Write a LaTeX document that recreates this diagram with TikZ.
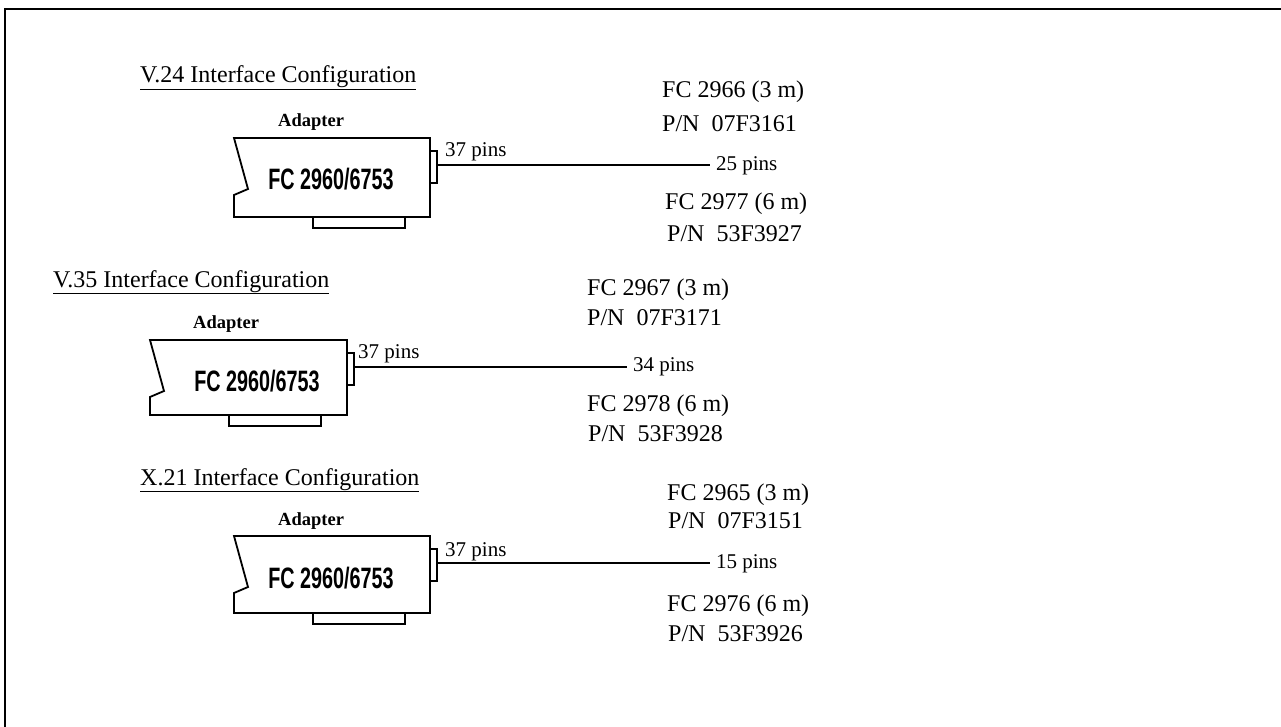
\documentclass[tikz,border=0pt]{standalone}
\usepackage{fontspec}
\setmainfont{Liberation Serif}
\newfontfamily\fcfont{Liberation Sans}
\tikzset{
  frameline/.style={line width=2pt},
  card/.style={line width=1.8pt, line join=miter},
  cable/.style={line width=2.2pt},
  thincable/.style={line width=1.5pt},
  ttl/.style={font=\fontsize{24}{28}\selectfont, anchor=base west, inner sep=0pt},
  lbl/.style={font=\fontsize{24}{28}\selectfont, anchor=base west, inner sep=0pt},
  pins/.style={font=\fontsize{21}{24}\selectfont, anchor=base west, inner sep=0pt},
  endpins/.style={font=\fontsize{21}{24}\selectfont, anchor=west, inner sep=0pt, outer xsep=6pt},
  adlbl/.style={font=\bfseries\fontsize{18.5}{22}\selectfont, anchor=base west, inner sep=0pt},
  fctext/.style={font=\fcfont\bfseries\fontsize{29.5}{32}\selectfont, inner sep=0pt}
}
% #1 prefix, #2 x, #3 y, #4 width, #5 height
\newcommand\adaptercard[5]{%
  \begin{scope}[shift={(#2,#3)}]
    \draw[card] (14,51) -- (0,0) -- (#4,0) -- (#4,#5) -- (0,#5) -- (0,57) -- cycle;
    \draw[card] (#4,13) rectangle ({#4+7},45);
    \draw[card] (79,#5) rectangle (171,{#5+11});
    \coordinate (#1conn) at ({#4+7},27);
  \end{scope}}
\newcommand\fcstr{\scalebox{0.67}[1]{FC 2960/6753}}
\begin{document}
\begin{tikzpicture}[x=1pt,y=-1pt]
  \useasboundingbox (0,0) rectangle (1281,727);
  \draw[frameline] (5,727) -- (5,9) -- (1281,9);

  % ---------- V.24 ----------
  \node[ttl] (t1) at (140,83) {\underline{V.24 Interface Configuration}};
  \node[adlbl] (ad1) at (278,127) {Adapter};
  \adaptercard{a}{234}{138}{196}{79}
  \node[fctext] (fc1) at (331,179) {\fcstr};
  \node[pins] (p37a) at (445,157) {37 pins};
  \node[endpins] (pa) at (710,166) {25 pins};
  \draw[cable] (aconn) -- (aconn -| pa.west);
  \node[lbl] (c1a) at (662,98) {FC 2966 (3 m)};
  \node[lbl] (n1a) at (662,131.5) {P/N\ \ 07F3161};
  \node[lbl] (c1b) at (665,210) {FC 2977 (6 m)};
  \node[lbl] (n1b) at (667,241.5) {P/N\ \ 53F3927};

  % ---------- V.35 ----------
  \node[ttl] (t2) at (53,287) {\underline{V.35 Interface Configuration}};
  \node[adlbl] (ad2) at (193,328.5) {Adapter};
  \adaptercard{b}{150}{340}{197}{75}
  \node[fctext] (fc2) at (257,381) {\fcstr};
  \node[pins] (p37b) at (358,358.5) {37 pins};
  \node[endpins] (pb) at (627,367) {34 pins};
  \draw[thincable] (bconn) -- (bconn -| pb.west);
  \node[lbl] (c2a) at (587,295) {FC 2967 (3 m)};
  \node[lbl] (n2a) at (587,325) {P/N\ \ 07F3171};
  \node[lbl] (c2b) at (587,411.5) {FC 2978 (6 m)};
  \node[lbl] (n2b) at (588,441.5) {P/N\ \ 53F3928};

  % ---------- X.21 ----------
  \node[ttl] (t3) at (140,485) {\underline{X.21 Interface Configuration}};
  \node[adlbl] (ad3) at (278,525) {Adapter};
  \adaptercard{c}{234}{536}{196}{77}
  \node[fctext] (fc3) at (331,578) {\fcstr};
  \node[pins] (p37c) at (445,556.5) {37 pins};
  \node[endpins] (pc) at (710,564) {15 pins};
  \draw[cable] (cconn) -- (cconn -| pc.west);
  \node[lbl] (c3a) at (667,500) {FC 2965 (3 m)};
  \node[lbl] (n3a) at (668,528.5) {P/N\ \ 07F3151};
  \node[lbl] (c3b) at (667,611.5) {FC 2976 (6 m)};
  \node[lbl] (n3b) at (668,641.5) {P/N\ \ 53F3926};
\end{tikzpicture}
\end{document}
